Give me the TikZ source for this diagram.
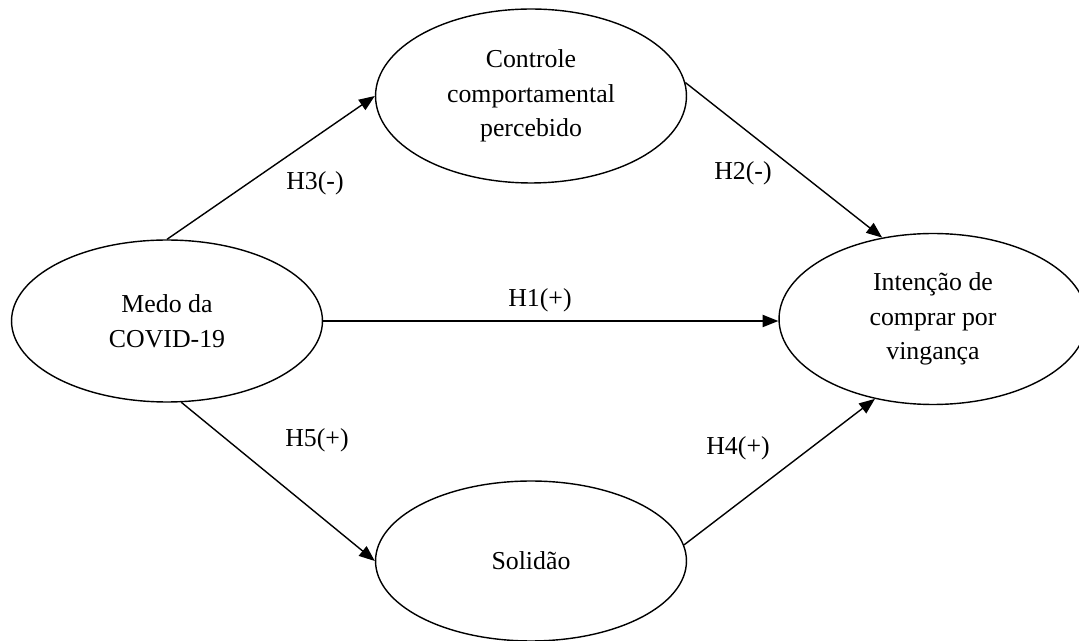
\documentclass[tikz,border=0pt]{standalone}
\usepackage{fontspec}
\setmainfont{Liberation Serif}
\usetikzlibrary{%
	arrows.meta,%
	shapes.geometric,%
	positioning,%
}
\tikzset{
	>={Triangle[length=9pt, width=7pt]},%
	nodes={align=center},%
	construct/.style={%
			draw,%
			ellipse,%
			line width=0.8pt,%
			inner sep=0pt,%
			minimum width=6.22cm,%
			minimum height=3.24cm},%
	hyplabel/.style={%
			inner sep=0pt},%
	hyparrow/.style={%
			->,%
			line width=0.8pt},%
}

\begin{document}
\begin{tikzpicture}[x=0.02cm, y=-0.02cm, nodes={font={\fontsize{14.7}{19.8}\selectfont}}]%
	\clip (0,0) rectangle (1079,641);

	\node[construct] (medo) at (167,321) {Medo da\\COVID-19};

	\node[construct, minimum height=3.48cm] (controle) at (531,96) {Controle\\comportamental\\percebido};

	\node[construct, minimum height=3.2cm] (solidao) at (531,561) {Solidão};

	\node[construct, minimum width=6.16cm, minimum height=3.42cm] (intencao) at (933,319) {Intenção de\\comprar por\\vingança};

	\node[hyplabel] (h1) at (540,300) {H1(+)};
	\node[hyplabel] (h2) at (743,173) {H2(-)};
	\node[hyplabel] (h3) at (315,183) {H3(-)};
	\node[hyplabel] (h4) at (738,448) {H4(+)};
	\node[hyplabel] (h5) at (317,440) {H5(+)};

	\draw[hyparrow] (medo.east) to (medo.east -| intencao.west);
	\draw[hyparrow] (controle.5) to (intencao.122);
	\draw[hyparrow] (medo.north) to (controle.west);
	\draw[hyparrow] (solidao.6) to (intencao.234);
	\draw[hyparrow] (medo.-80) to (solidao.west);
\end{tikzpicture}
\end{document}
